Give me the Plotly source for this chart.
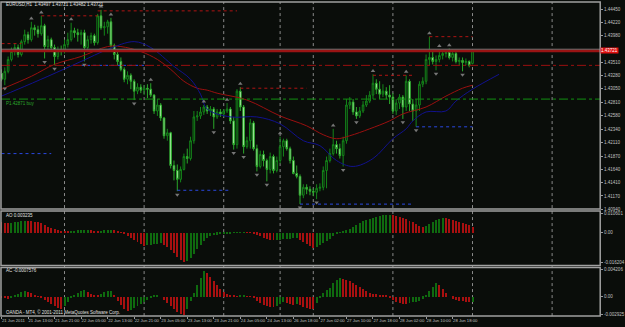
import plotly.graph_objects as go

# ---------------- data ----------------
open_ = [1.43323,1.43219,1.43358,1.43567,1.43706,1.43776,1.43654,1.43880,1.44002,1.43915,
         1.44124,1.44089,1.44019,1.44159,1.43793,1.43915,1.43776,1.43619,1.43741,1.43706,
         1.43828,1.43915,1.44072,1.44037,1.44002,1.44037,1.43776,1.43915,1.43985,1.43863,
         1.44333,1.44124,1.44141,1.44228,1.43811,1.43654,1.43532,1.43393,1.43219,1.43289,
         1.43184,1.43010,1.43080,1.43028,1.43062,1.43045,1.42941,1.42662,1.42767,1.42540,
         1.42227,1.42279,1.41705,1.41618,1.41462,1.41636,1.41862,1.41827,1.42140,1.42558,
         1.42575,1.42645,1.42732,1.42662,1.42697,1.42558,1.42645,1.42610,1.42662,1.42697,
         1.42488,1.42071,1.43010,1.42732,1.42036,1.42140,1.42453,1.42001,1.41688,1.41897,
         1.41792,1.41636,1.41862,1.41618,1.41792,1.42036,1.42140,1.42001,1.41792,1.41566,
         1.41514,1.41183,1.41322,1.41288,1.41253,1.41235,1.41305,1.41322,1.41618,1.41792,
         1.41914,1.42071,1.42001,1.41879,1.42140,1.42767,1.42819,1.42645,1.42575,1.42662,
         1.42767,1.42836,1.42941,1.43149,1.43045,1.42958,1.43010,1.42941,1.42906,1.42662,
         1.42801,1.42906,1.42732,1.43184,1.42784,1.42662,1.42767,1.43132,1.43184,1.43567,
         1.43602,1.43532,1.43567,1.43637,1.43671,1.43689,1.43602,1.43671,1.43532,1.43550,
         1.43515,1.43532,1.43497]
high = [1.43393,1.43428,1.43619,1.43776,1.43845,1.43828,1.43915,1.44089,1.44054,1.44228,
        1.44176,1.44159,1.44333,1.44193,1.43985,1.43950,1.43828,1.43793,1.43811,1.43915,
        1.44037,1.44211,1.44124,1.44106,1.44089,1.44089,1.43985,1.44037,1.44019,1.44367,
        1.44437,1.44228,1.44263,1.44298,1.43845,1.43741,1.43602,1.43428,1.43358,1.43323,
        1.43219,1.43149,1.43132,1.43115,1.43132,1.43149,1.42958,1.42871,1.42801,1.42558,
        1.42349,1.42297,1.41792,1.41723,1.41688,1.41914,1.42001,1.42210,1.42662,1.42662,
        1.42732,1.42767,1.42767,1.42749,1.42732,1.42697,1.42697,1.42697,1.42801,1.42732,
        1.42558,1.43045,1.43080,1.42767,1.42210,1.42523,1.42488,1.42071,1.41966,1.41966,
        1.41827,1.41931,1.41897,1.41862,1.42210,1.42175,1.42175,1.42036,1.41862,1.41705,
        1.41549,1.41375,1.41375,1.41340,1.41305,1.41375,1.41392,1.41688,1.41862,1.42001,
        1.42349,1.42140,1.42088,1.42210,1.42871,1.42906,1.42871,1.42732,1.42732,1.42836,
        1.42941,1.43010,1.43306,1.43219,1.43184,1.43132,1.43080,1.43115,1.42975,1.42871,
        1.42958,1.42941,1.43289,1.43219,1.42871,1.42871,1.43184,1.43254,1.43654,1.43967,
        1.43706,1.43637,1.43741,1.43724,1.43741,1.43758,1.43741,1.43706,1.43602,1.43602,
        1.43584,1.43550,1.43721]
low = [1.43184,1.43115,1.43323,1.43532,1.43637,1.43602,1.43619,1.43828,1.43845,1.43880,
       1.43985,1.43950,1.43985,1.43584,1.43706,1.43706,1.43463,1.43567,1.43637,1.43671,
       1.43776,1.43880,1.43950,1.43880,1.43828,1.43532,1.43706,1.43845,1.43811,1.43828,
       1.44089,1.43985,1.44019,1.43776,1.43567,1.43463,1.43358,1.43167,1.43132,1.43045,
       1.42854,1.42958,1.42975,1.42941,1.42888,1.42906,1.42610,1.42575,1.42488,1.42175,
       1.42140,1.41653,1.41444,1.41253,1.41409,1.41618,1.41740,1.41792,1.42088,1.42488,
       1.42523,1.42593,1.42610,1.42575,1.42349,1.42523,1.42558,1.42558,1.42627,1.42436,
       1.41984,1.42001,1.42662,1.41914,1.42001,1.42001,1.41966,1.41601,1.41653,1.41688,
       1.41427,1.41566,1.41566,1.41583,1.41740,1.41862,1.41966,1.41740,1.41549,1.41479,
       1.41027,1.41131,1.41201,1.41183,1.41166,1.41114,1.41253,1.41270,1.41305,1.41757,
       1.41879,1.41914,1.41827,1.41688,1.42088,1.42697,1.42593,1.42523,1.42540,1.42627,
       1.42732,1.42801,1.42871,1.42958,1.42871,1.42906,1.42871,1.42784,1.42610,1.42593,
       1.42697,1.42523,1.42662,1.42662,1.42488,1.42384,1.42662,1.43080,1.43132,1.43463,
       1.43480,1.43376,1.43515,1.43567,1.43602,1.43567,1.43532,1.43497,1.43463,1.43358,
       1.43463,1.43428,1.43482]
close = [1.43219,1.43358,1.43567,1.43706,1.43776,1.43654,1.43880,1.44002,1.43915,1.44124,
         1.44089,1.44019,1.44159,1.43793,1.43915,1.43776,1.43619,1.43741,1.43706,1.43828,
         1.43915,1.44072,1.44037,1.44002,1.44037,1.43776,1.43915,1.43985,1.43863,1.44333,
         1.44124,1.44141,1.44228,1.43811,1.43654,1.43532,1.43393,1.43219,1.43289,1.43184,
         1.43010,1.43080,1.43028,1.43062,1.43045,1.42941,1.42662,1.42767,1.42540,1.42227,
         1.42279,1.41705,1.41618,1.41462,1.41636,1.41862,1.41827,1.42140,1.42558,1.42575,
         1.42645,1.42732,1.42662,1.42697,1.42558,1.42645,1.42610,1.42662,1.42697,1.42488,
         1.42071,1.43010,1.42732,1.42036,1.42140,1.42453,1.42001,1.41688,1.41897,1.41792,
         1.41636,1.41862,1.41618,1.41792,1.42036,1.42140,1.42001,1.41792,1.41566,1.41514,
         1.41183,1.41322,1.41288,1.41253,1.41235,1.41305,1.41322,1.41618,1.41792,1.41914,
         1.42071,1.42001,1.41879,1.42140,1.42767,1.42819,1.42645,1.42575,1.42662,1.42767,
         1.42836,1.42941,1.43149,1.43045,1.42958,1.43010,1.42941,1.42906,1.42662,1.42801,
         1.42906,1.42732,1.43184,1.42784,1.42662,1.42767,1.43132,1.43184,1.43567,1.43602,
         1.43532,1.43567,1.43637,1.43671,1.43689,1.43602,1.43671,1.43532,1.43550,1.43515,
         1.43532,1.43463,1.43721]

ao = [0.00578,0.0055,0.00523,0.0055,0.00578,0.00605,0.00633,0.0066,0.00649,0.00633,
      0.00605,0.00578,0.0055,0.0044,0.0033,0.00275,0.0022,0.00165,0.0011,0.00083,
      0.00055,0.00083,0.0011,0.00138,0.00165,0.00171,0.00176,0.00138,0.0011,0.00083,
      0.0011,0.00138,0.00165,0.00176,0.00138,0.00083,0.00028,-0.00055,-0.00165,-0.00275,
      -0.00385,-0.00495,-0.00605,-0.00715,-0.00688,-0.0066,-0.00633,-0.00605,-0.00578,-0.0066,
      -0.0077,-0.00935,-0.011,-0.0132,-0.01485,-0.01623,-0.0154,-0.01375,-0.01155,-0.0088,
      -0.0066,-0.0044,-0.00275,-0.00193,-0.00138,-0.0011,-0.00083,-0.00055,-0.00028,-0.00017,
      -0.00011,0.00006,0.00017,0.00028,0.00022,0.00011,-0.00017,-0.0011,-0.00193,-0.00275,
      -0.0033,-0.00385,-0.00413,-0.00396,-0.00385,-0.00358,-0.0033,-0.00319,-0.00303,-0.00286,
      -0.00385,-0.00495,-0.00605,-0.00715,-0.00825,-0.0077,-0.0066,-0.0055,-0.0044,-0.0033,
      -0.00165,-0.00055,0.00028,0.00083,0.00165,0.0022,0.0033,0.0044,0.0055,0.0066,
      0.00715,0.0077,0.00825,0.0088,0.00935,0.00963,0.0099,0.01001,0.00979,0.00935,
      0.0088,0.00825,0.00743,0.0066,0.00578,0.00495,0.00385,0.00303,0.00385,0.00495,
      0.00605,0.00688,0.0077,0.00825,0.00798,0.00743,0.00688,0.00633,0.00578,0.00523,
      0.00468,0.00413,0.003235]
ac = [-0.00016,-0.00023,-0.00031,-0.00016,0.00016,0.00047,0.00078,0.00094,0.00078,0.00055,
      0.00031,0.00008,-0.00016,-0.00047,-0.00078,-0.00109,-0.0014,-0.00172,-0.00195,-0.0014,
      -0.00078,-0.00016,0.00031,0.00062,0.00094,0.00101,0.00078,0.00047,0.00023,0.00016,
      0.00047,0.0007,0.00086,0.00094,0.00031,-0.00062,-0.00125,-0.00187,-0.00218,-0.00203,
      -0.00172,-0.0014,-0.00109,-0.00078,-0.00047,-0.00016,0.00016,0.00031,0.0,-0.00047,
      -0.00094,-0.0014,-0.00187,-0.00234,-0.00265,-0.00289,-0.00187,-0.00062,0.00062,0.00187,
      0.00296,0.00406,0.00374,0.00312,0.0025,0.00187,0.00125,0.00078,0.00047,0.00031,
      0.00016,0.00008,0.00012,0.00019,0.00009,0.00003,-0.00016,-0.00062,-0.00094,-0.00125,
      -0.00148,-0.00156,-0.00164,-0.0014,-0.00109,-0.00078,-0.00094,-0.00117,-0.00125,-0.00109,
      -0.00133,-0.00156,-0.00172,-0.00187,-0.00195,-0.00094,-0.00016,0.00062,0.00109,0.0014,
      0.00218,0.00265,0.00296,0.00281,0.00265,0.0025,0.00218,0.00187,0.00156,0.00125,
      0.00094,0.00062,0.00047,0.00039,0.00031,0.00023,0.00016,-0.00016,-0.00047,-0.00078,
      -0.00094,-0.00109,-0.00117,-0.00101,-0.00086,-0.00078,-0.00062,-0.00031,0.00031,0.00094,
      0.00156,0.00218,0.00187,0.00125,0.00062,0.0,-0.00031,-0.00047,-0.00062,-0.0007,
      -0.00078,-0.00081,-0.0007576]

red_ma_bars = [0,9,16,24,32,36,42,47,51,55,59,62,65,74,84,92,97,101,105,111,117,121,128,134,139,142]
red_ma = [1.43045,1.43271,1.43480,1.43619,1.43793,1.43793,1.43706,1.43567,1.43393,1.43184,
          1.43062,1.43028,1.42975,1.42854,1.42575,1.42401,1.42245,1.42175,1.42227,1.42349,
          1.42488,1.42610,1.42732,1.42923,1.43062,1.43115]
blue_ma_bars = [0,5,14,24,32,40,45,52,57,60,62,69,77,84,91,96,101,106,112,118,122,124,128,134,137,142,150]
blue_ma = [1.42923,1.43045,1.43271,1.43532,1.43741,1.43880,1.43776,1.43445,1.43219,1.42958,
           1.42697,1.42558,1.42558,1.42436,1.42140,1.42053,1.41792,1.41688,1.41827,1.42175,
           1.42349,1.42488,1.42645,1.42662,1.42836,1.43045,1.43306]

fractal_up = [9,12,21,30,33,45,61,68,72,84,100,112,122,129,132,135]
fractal_down = [1,13,16,25,40,53,64,70,73,77,80,90,95,103,107,121,125,131,139]

red_lvl_price = [1.43845,1.44333,1.44420,1.43062,1.43289,1.43967]
red_lvl_from = [0,12,29,72,112,129]
red_lvl_to = [6,29,71,92,124,142]
blue_lvl_price = [1.41914,1.43463,1.41270,1.41027,1.42384]
blue_lvl_from = [0,24,53,90,125]
blue_lvl_to = [15,44,69,124,142]

hline_red = 1.43463
hline_green = 1.42871
bid = close[-1]

day_start_bars = [19,43,67,84,94,118,142,166]
time_tick_bars = [0,8,16,24,32,40,48,56,64,72,80,88,96,104,112,120,128,136]
time_tick_labels = ["21 Jun 2011","21 Jun 13:00","21 Jun 21:00","22 Jun 05:00","22 Jun 13:00",
                    "22 Jun 21:00","23 Jun 05:00","23 Jun 13:00","23 Jun 21:00","24 Jun 05:00",
                    "24 Jun 13:00","26 Jun 18:00","27 Jun 02:00","27 Jun 10:00","27 Jun 18:00",
                    "28 Jun 02:00","28 Jun 10:00","28 Jun 18:00"]
price_ticks = [1.4094,1.4117,1.4141,1.4164,1.4187,1.4211,1.4234,1.4258,1.4281,1.4305,1.4328,
               1.4351,1.4398,1.4422,1.4445]
ao_ticks = [0.0106, 0.0, -0.0162]
ao_tick_text = ["0.010601", "0.00", "-0.016204"]
ac_ticks = [0.0042, 0.0, -0.00292]
ac_tick_text = ["0.004206", "0.00", "-0.002925"]

# ---------------- styling ----------------
BG = "#0a0d0a"
GRAYTXT = "#c0c0c0"
FONT = "Liberation Sans Narrow, Liberation Sans, DejaVu Sans"
W, H = 625, 327
bars = list(range(len(close)))

def py(px):  # paper y from pixel row
    return 1 - px / H

fig = go.Figure()

fig.add_trace(go.Candlestick(
    x=bars, open=open_, high=high, low=low, close=close,
    increasing=dict(line=dict(color="#14861a", width=1), fillcolor=BG),
    decreasing=dict(line=dict(color="#2aa82a", width=1), fillcolor="#cfffc8"),
    whiskerwidth=0, showlegend=False, hoverinfo="skip", xaxis="x", yaxis="y"))

fig.add_trace(go.Scatter(x=red_ma_bars, y=red_ma, mode="lines",
                         line=dict(color="#9a1010", width=1, shape="spline"),
                         showlegend=False, xaxis="x", yaxis="y"))
fig.add_trace(go.Scatter(x=blue_ma_bars, y=blue_ma, mode="lines",
                         line=dict(color="#12128e", width=1, shape="spline"),
                         showlegend=False, xaxis="x", yaxis="y"))

for p, a, b in zip(red_lvl_price, red_lvl_from, red_lvl_to):
    fig.add_trace(go.Scatter(x=[a, b], y=[p, p], mode="lines",
                             line=dict(color="#b01414", width=1, dash="dot"),
                             showlegend=False, xaxis="x", yaxis="y"))
for p, a, b in zip(blue_lvl_price, blue_lvl_from, blue_lvl_to):
    fig.add_trace(go.Scatter(x=[a, b], y=[p, p], mode="lines",
                             line=dict(color="#2a48e0", width=1, dash="dot"),
                             showlegend=False, xaxis="x", yaxis="y"))

off = 0.0006
fig.add_trace(go.Scatter(x=fractal_up, y=[high[i] + off for i in fractal_up], mode="markers",
                         marker=dict(symbol="triangle-up", size=4, color="#767676"),
                         showlegend=False, xaxis="x", yaxis="y"))
fig.add_trace(go.Scatter(x=fractal_down, y=[low[i] - off for i in fractal_down], mode="markers",
                         marker=dict(symbol="triangle-down", size=4, color="#767676"),
                         showlegend=False, xaxis="x", yaxis="y"))

def hist_colors(v):
    cols = []
    for i, val in enumerate(v):
        if i > 0 and val > v[i - 1]:
            cols.append("#0f6a0f")
        else:
            cols.append("#a81010")
    return cols

fig.add_trace(go.Bar(x=bars, y=ao, marker=dict(color=hist_colors(ao), line=dict(width=0)),
                     width=0.3, showlegend=False, xaxis="x2", yaxis="y2"))
fig.add_trace(go.Bar(x=bars, y=ac, marker=dict(color=hist_colors(ac), line=dict(width=0)),
                     width=0.3, showlegend=False, xaxis="x3", yaxis="y3"))

XD = [1 / W, 608 / W]
main_dom = [py(211), py(2)]
ao_dom = [py(268), py(213)]
ac_dom = [py(319), py(270)]
xr = [-0.15, 180.5]

axis_common = dict(showgrid=False, zeroline=False, color=GRAYTXT)
fig.update_layout(
    width=W, height=H, margin=dict(l=0, r=0, t=0, b=0),
    paper_bgcolor=BG, plot_bgcolor=BG, bargap=0,
    font=dict(family=FONT, size=5, color=GRAYTXT),
    xaxis=dict(domain=XD, range=xr, showticklabels=False, rangeslider=dict(visible=False),
               **axis_common),
    xaxis2=dict(domain=XD, range=xr, matches="x", showticklabels=False, anchor="y2", **axis_common),
    xaxis3=dict(domain=XD, range=xr, matches="x", anchor="y3", tickmode="array",
                tickvals=time_tick_bars, ticktext=time_tick_labels, ticks="outside",
                ticklen=2, tickcolor="#9a9a9a", ticklabelposition="outside right", tickangle=0,
                tickfont=dict(size=4.2, color=GRAYTXT), **axis_common),
    yaxis=dict(domain=main_dom, range=[1.40940, 1.44576], side="right", anchor="x",
               tickmode="array", tickvals=price_ticks,
               ticktext=["%.5f" % t for t in price_ticks], ticks="outside", ticklen=2,
               tickcolor="#9a9a9a", tickfont=dict(size=4.5, color=GRAYTXT), **axis_common),
    yaxis2=dict(domain=ao_dom, range=[-0.01815, 0.0121], side="right", anchor="x2",
                tickmode="array", tickvals=ao_ticks, ticktext=ao_tick_text, ticks="outside",
                ticklen=2, tickcolor="#9a9a9a", tickfont=dict(size=4.5, color=GRAYTXT), **axis_common),
    yaxis3=dict(domain=ac_dom, range=[-0.00312, 0.004524], side="right", anchor="x3",
                tickmode="array", tickvals=ac_ticks, ticktext=ac_tick_text, ticks="outside",
                ticklen=2, tickcolor="#9a9a9a", tickfont=dict(size=4.5, color=GRAYTXT), **axis_common),
)

shapes = []
shapes.append(dict(type="line", xref="paper", x0=XD[0], x1=XD[1], yref="y", y0=hline_red, y1=hline_red,
                   line=dict(color="#9a1010", width=1, dash="dashdot")))
shapes.append(dict(type="line", xref="paper", x0=XD[0], x1=XD[1], yref="y", y0=hline_green, y1=hline_green,
                   line=dict(color="#129212", width=1, dash="dashdot")))
shapes.append(dict(type="line", xref="paper", x0=XD[0], x1=XD[1], yref="y", y0=bid, y1=bid,
                   line=dict(color="#9a1414", width=3)))
shapes.append(dict(type="line", xref="paper", x0=XD[0], x1=XD[1], yref="y", y0=bid + 0.00026, y1=bid + 0.00026,
                   line=dict(color="#707070", width=1)))
for b in day_start_bars:
    shapes.append(dict(type="line", xref="x", x0=b, x1=b, yref="paper", y0=ac_dom[0], y1=main_dom[1],
                       line=dict(color="#8a8a8a", width=1, dash="dot"), layer="below"))
for dom in (main_dom, ao_dom, ac_dom):
    shapes.append(dict(type="rect", xref="paper", x0=XD[0], x1=XD[1], yref="paper", y0=dom[0], y1=dom[1],
                       line=dict(color="#a0a0a0", width=1.5), fillcolor="rgba(0,0,0,0)"))
fig.update_layout(shapes=shapes)

ann = []
ann.append(dict(xref="paper", yref="paper", x=4 / W, y=py(5), xanchor="left", yanchor="middle",
                text="EURUSD,H1  1.43497 1.43721 1.43482 1.43721", showarrow=False,
                font=dict(size=4.5, color="#e0e0e0")))
ann.append(dict(xref="paper", yref="y", x=4 / W, y=hline_green, xanchor="left", yanchor="top",
                text="P1.42871 buy", showarrow=False, font=dict(size=4.5, color="#2aa82a")))
ann.append(dict(xref="paper", yref="paper", x=4 / W, y=py(217), xanchor="left", yanchor="middle",
                text="AO 0.003235", showarrow=False, font=dict(size=4.5, color="#e0e0e0")))
ann.append(dict(xref="paper", yref="paper", x=4 / W, y=py(273), xanchor="left", yanchor="middle",
                text="AC -0.0007576", showarrow=False, font=dict(size=4.5, color="#e0e0e0")))
ann.append(dict(xref="paper", yref="paper", x=4 / W, y=py(315), xanchor="left", yanchor="middle",
                text="OANDA - MT4, © 2001-2011 MetaQuotes Software Corp.", showarrow=False,
                font=dict(size=4.5, color="#e0e0e0")))
ann.append(dict(xref="paper", yref="y", x=XD[1], y=bid, xanchor="left", yanchor="middle",
                text="%.5f" % bid, showarrow=False, bgcolor="#e01010",
                font=dict(size=4.5, color="#ffffff"), borderpad=0))
fig.update_layout(annotations=ann)

fig.write_html("out.html")
